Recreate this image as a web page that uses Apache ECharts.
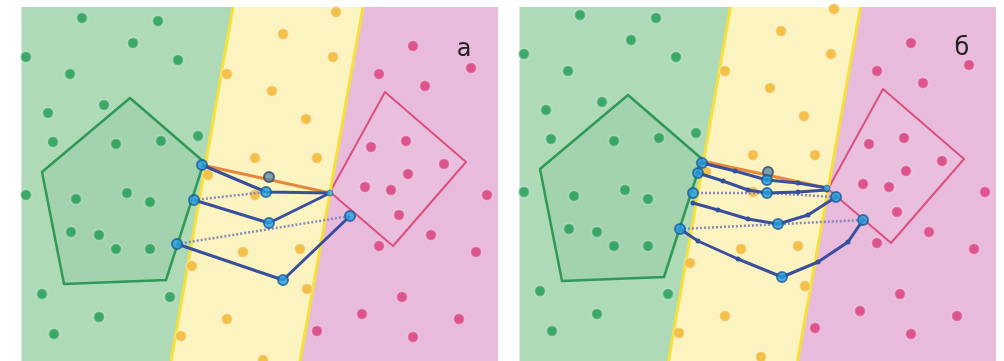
<!DOCTYPE html>
<html><head><meta charset="utf-8">
<script src="https://cdn.jsdelivr.net/npm/echarts@6/dist/echarts.min.js"></script>
<style>html,body{margin:0;padding:0;background:#fff}#c{width:1004px;height:361px}</style>
</head><body><div id="c"></div>
<script>
// ---- data (panel-local coordinates) ----
const panelX = [21.5, 498];
const panelYLeft = [7, 361];
const panelYRight = [10, 364];
const boundaryGY = [[233, 7], [171, 361]];
const boundaryYP = [[363, 7], [300, 361]];
const pentagon = [[130, 98], [204, 162], [166, 280], [64, 284], [42, 172]];
const square = [[385, 92], [466, 162], [393, 246], [330, 192]];

const greenDots = [[82,18],[158,21],[133,43],[26,57],[178,60],[70,74],[104,105],[48,113],[53,142],[116,144],[161,141],[198,136],[26,195],[76,199],[127,193],[150,202],[71,232],[99,235],[116,249],[150,249],[42,294],[170,297],[99,317],[54,334]];
const yellowDots = [[336,12],[283,34],[333,57],[227,74],[272,91],[306,119],[255,158],[317,158],[208,175],[255,195],[243,252],[300,249],[192,266],[307,289],[227,319],[181,336],[263,360]];
const pinkDots = [[413,46],[379,74],[425,86],[471,68],[371,147],[406,141],[444,164],[408,174],[365,187],[391,190],[399,215],[379,246],[431,235],[487,195],[476,252],[402,297],[362,314],[459,319],[413,337],[317,331]];

// panel а paths
const aOrange = [[202,165],[330,193]];
const aBlue = [
  [[202,165],[266,192],[330,193]],
  [[194,200],[269,223],[330,193]],
  [[177,244],[283,280],[350,216]]
];
const aDotted = [
  [[194,200],[266,192]],
  [[177,244],[350,216]]
];
const aNodes = [[202,165],[194,200],[177,244],[266,192],[269,223],[283,280],[350,216]];
const aGreyNodes = [[269,177]];
const aSmallNodes = [[330,193]];

// panel б paths
const bOrange = [[204,164],[329,191]];
const bBlue = [
  [[204,166],[237,174],[269,183],[300,186],[329,191]],
  [[200,176],[225,184],[250,193],[269,196],[300,195],[329,193]],
  [[195,206],[220,213],[250,222],[280,227],[310,218],[338,200]],
  [[182,232],[200,244],[240,262],[284,280],[320,265],[350,245],[365,223]]
];
const bDotted = [
  [[195,196],[269,196],[338,200]],
  [[182,232],[365,223]]
];
const bNodes = [[204,166],[200,176],[195,196],[182,232],[269,183],[269,196],[280,227],[284,280],[338,200],[365,223]];
const bGreyNodes = [[270,175]];
const bSmallNodes = [[329,191]];

const labels = ['а', 'б'];

// ---- helpers ----
function xAt(b, y) {
  const [p, q] = b;
  return p[0] + (q[0] - p[0]) * (y - p[1]) / (q[1] - p[1]);
}
function regions(py) {
  const [t, bt] = py;
  return [
    {pts: [[panelX[0], t], [xAt(boundaryGY, t), t], [xAt(boundaryGY, bt), bt], [panelX[0], bt]], fill: '#aedab8', stroke: null},
    {pts: [[xAt(boundaryGY, t), t], [xAt(boundaryYP, t), t], [xAt(boundaryYP, bt), bt], [xAt(boundaryGY, bt), bt]], fill: '#fcf4c0', stroke: null},
    {pts: [[xAt(boundaryYP, t), t], [panelX[1], t], [panelX[1], bt], [xAt(boundaryYP, bt), bt]], fill: '#e8badb', stroke: null},
    {pts: pentagon, fill: 'rgba(60,150,85,0.10)', stroke: '#2f9a57', lw: 2.5},
    {pts: square, fill: 'rgba(255,255,255,0.08)', stroke: '#dc507f', lw: 2}
  ];
}
function boundaryLines(py) {
  return [boundaryGY, boundaryYP].map(b => [[xAt(b, py[0]), py[0]], [xAt(b, py[1]), py[1]]]);
}

function panelSeries(idx, py, orange, blues, dotted, nodes, greyNodes, smallNodes, withMarks) {
  const regs = regions(py);
  const s = [];
  s.push({
    type: 'custom', xAxisIndex: idx, yAxisIndex: idx, silent: true, z: 1,
    data: regs.map((r, i) => [i]),
    renderItem: function (params, api) {
      const r = regs[params.dataIndex];
      return {type: 'polygon', shape: {points: r.pts.map(p => api.coord(p))},
        style: {fill: r.fill, stroke: r.stroke || 'none', lineWidth: r.lw || 0, lineJoin: 'round'}};
    }
  });
  boundaryLines(py).forEach(l => s.push({type: 'line', xAxisIndex: idx, yAxisIndex: idx, data: l, showSymbol: false, z: 2,
    lineStyle: {color: '#f5e03c', width: 3}, silent: true}));
  const dot = (data, color) => ({type: 'scatter', xAxisIndex: idx, yAxisIndex: idx, data, symbolSize: 11, z: 3, silent: true,
    itemStyle: {color, borderColor: 'rgba(255,255,255,0.35)', borderWidth: 2}});
  s.push(dot(greenDots, '#1f9b52'));
  s.push(dot(yellowDots, '#f0b32c'));
  s.push(dot(pinkDots, '#d8397a'));
  dotted.forEach(l => s.push({type: 'line', xAxisIndex: idx, yAxisIndex: idx, data: l, showSymbol: false, z: 4, silent: true,
    lineStyle: {color: '#8a88bf', width: 2.5, type: [2, 2]}}));
  s.push({type: 'line', xAxisIndex: idx, yAxisIndex: idx, data: orange, showSymbol: false, z: 5, silent: true,
    lineStyle: {color: '#e5883a', width: 3}});
  blues.forEach(l => s.push({type: 'line', xAxisIndex: idx, yAxisIndex: idx, data: l, z: 6, silent: true,
    showSymbol: withMarks, symbol: 'circle', symbolSize: 5, itemStyle: {color: '#33509c'},
    lineStyle: {color: '#3a4e9c', width: 3}}));
  s.push({type: 'scatter', xAxisIndex: idx, yAxisIndex: idx, data: nodes, symbolSize: 10, z: 8, silent: true,
    itemStyle: {color: '#26a3e4', borderColor: '#1a5a9a', borderWidth: 2}});
  s.push({type: 'scatter', xAxisIndex: idx, yAxisIndex: idx, data: greyNodes, symbolSize: 10, z: 7, silent: true,
    itemStyle: {color: '#5f8aa6', borderColor: '#2d4a6e', borderWidth: 2}});
  s.push({type: 'scatter', xAxisIndex: idx, yAxisIndex: idx, data: smallNodes, symbolSize: 6, z: 8, silent: true,
    itemStyle: {color: '#3fb6d8', borderColor: '#2a6f9a', borderWidth: 1}});
  return s;
}

const chart = echarts.init(document.getElementById('c'), null, {renderer: 'canvas'});
const axisHidden = {show: false, splitLine: {show: false}};
chart.setOption({
  animation: false,
  backgroundColor: '#ffffff',
  grid: [
    {left: 22, top: 0, width: 478, height: 361},
    {left: 520, top: 0, width: 478, height: 361}
  ],
  xAxis: [
    Object.assign({type: 'value', gridIndex: 0, min: 22, max: 500}, axisHidden),
    Object.assign({type: 'value', gridIndex: 1, min: 22, max: 500}, axisHidden)
  ],
  yAxis: [
    Object.assign({type: 'value', gridIndex: 0, min: 0, max: 361, inverse: true}, axisHidden),
    Object.assign({type: 'value', gridIndex: 1, min: 3, max: 364, inverse: true}, axisHidden)
  ],
  graphic: {elements: [
    {type: 'text', z: 100, zlevel: 0, x: 464, y: 50, style: {text: labels[0], fontSize: 24, fontFamily: 'DejaVu Sans', fill: '#222', align: 'center', verticalAlign: 'middle'}},
    {type: 'text', z: 100, zlevel: 0, x: 962, y: 49, style: {text: labels[1], fontSize: 24, fontFamily: 'DejaVu Sans', fill: '#222', align: 'center', verticalAlign: 'middle'}}
  ]},
  series: [].concat(
    panelSeries(0, panelYLeft, aOrange, aBlue, aDotted, aNodes, aGreyNodes, aSmallNodes, false),
    panelSeries(1, panelYRight, bOrange, bBlue, bDotted, bNodes, bGreyNodes, bSmallNodes, true)
  )
});
</script></body></html>
